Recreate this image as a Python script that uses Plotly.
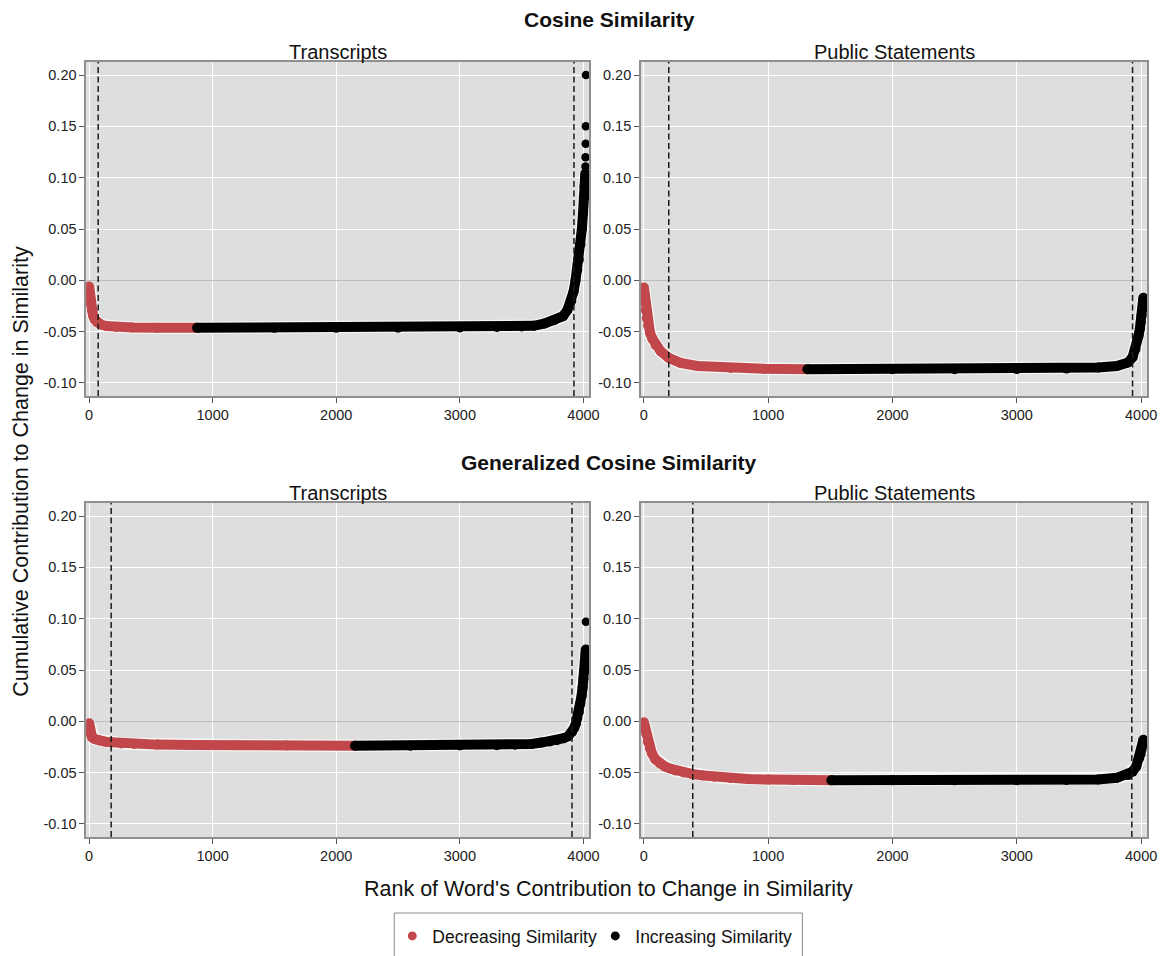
import plotly.graph_objects as go

# ---------------------------------------------------------------------------
# Cumulative contribution of each word (sorted by rank) to the change in
# similarity, for two similarity measures and two document sources.
# ---------------------------------------------------------------------------

# Cosine similarity / Transcripts
cos_tr_dec_rank = [1, 5, 10, 15, 22, 32, 45, 65, 95, 140, 220, 350, 550, 874]
cos_tr_dec_val = [-0.006, -0.013, -0.019, -0.024, -0.029, -0.034, -0.038,
                  -0.041, -0.043, -0.0445, -0.0455, -0.046, -0.0462, -0.0463]
cos_tr_inc_rank = [874, 1500, 2000, 2500, 3000, 3300, 3500, 3600, 3687, 3760,
                   3835, 3870, 3902, 3920, 3936, 3950, 3963, 3976, 3987, 3996,
                   4003, 4009, 4014, 4015]
cos_tr_inc_val = [-0.0463, -0.0463, -0.0463, -0.0462, -0.0459, -0.0455, -0.045,
                  -0.0443, -0.042, -0.039, -0.035, -0.029, -0.020, -0.011,
                  0.000, 0.010, 0.020, 0.035, 0.050, 0.065, 0.080, 0.092,
                  0.100, 0.104]
cos_tr_top_rank = [4016, 4017, 4018, 4019, 4020]
cos_tr_top_val = [0.111, 0.120, 0.133, 0.150, 0.200]
cos_tr_cutoffs = [74, 3923]

# Cosine similarity / Public Statements
cos_ps_dec_rank = [1, 5, 10, 16, 24, 35, 50, 70, 95, 135, 201, 295, 430, 700,
                   970, 1316]
cos_ps_dec_val = [-0.007, -0.013, -0.021, -0.029, -0.037, -0.044, -0.051,
                  -0.057, -0.063, -0.069, -0.0755, -0.0805, -0.0835, -0.0855,
                  -0.0862, -0.0866]
cos_ps_inc_rank = [1316, 2000, 2500, 3000, 3400, 3654, 3805, 3895, 3931, 3955,
                   3979, 3990, 3997, 4004, 4009, 4014, 4018]
cos_ps_inc_val = [-0.0866, -0.0866, -0.0866, -0.0865, -0.086, -0.085, -0.0835,
                  -0.080, -0.075, -0.067, -0.054, -0.047, -0.041, -0.034,
                  -0.028, -0.022, -0.017]
cos_ps_top_rank = []
cos_ps_top_val = []
cos_ps_cutoffs = [201, 3931]

# Generalized cosine similarity / Transcripts
gen_tr_dec_rank = [1, 5, 10, 16, 25, 40, 60, 90, 130, 179, 260, 366, 550, 828,
                   1200, 1600, 2152]
gen_tr_dec_val = [-0.002, -0.006, -0.010, -0.013, -0.0155, -0.017, -0.018,
                  -0.019, -0.0198, -0.0205, -0.0215, -0.022, -0.0227, -0.023,
                  -0.0233, -0.0236, -0.0238]
gen_tr_inc_rank = [2152, 2600, 3000, 3300, 3446, 3580, 3661, 3730, 3785, 3840,
                   3877, 3908, 3925, 3938, 3950, 3963, 3975, 3985, 3993, 4000,
                   4006, 4012, 4016, 4018, 4019]
gen_tr_inc_val = [-0.0238, -0.0238, -0.0236, -0.0232, -0.0228, -0.022, -0.0207,
                  -0.0196, -0.0184, -0.0165, -0.0146, -0.0104, -0.0065,
                  -0.0023, 0.003, 0.009, 0.017, 0.025, 0.033, 0.041, 0.049,
                  0.058, 0.064, 0.067, 0.070]
gen_tr_top_rank = [4020]
gen_tr_top_val = [0.097]
gen_tr_cutoffs = [179, 3907]

# Generalized cosine similarity / Public Statements
gen_ps_dec_rank = [1, 6, 12, 20, 33, 48, 65, 93, 130, 168, 210, 258, 320, 394,
                   480, 568, 700, 835, 1000, 1200, 1509]
gen_ps_dec_val = [-0.001, -0.004, -0.008, -0.012, -0.020, -0.026, -0.031,
                  -0.037, -0.041, -0.044, -0.046, -0.048, -0.0498, -0.0515,
                  -0.0528, -0.054, -0.0552, -0.0562, -0.0568, -0.0572, -0.0575]
gen_ps_inc_rank = [1509, 2000, 2500, 3000, 3400, 3654, 3805, 3895, 3931, 3961,
                   3985, 3996, 4003, 4010, 4015, 4018]
gen_ps_inc_val = [-0.0575, -0.0575, -0.0575, -0.0574, -0.0571, -0.0566, -0.055,
                  -0.0524, -0.049, -0.044, -0.036, -0.032, -0.028, -0.024,
                  -0.020, -0.018]
gen_ps_top_rank = []
gen_ps_top_val = []
gen_ps_cutoffs = [394, 3925]

# Axis ticks
x_ticks = [0, 1000, 2000, 3000, 4000]
x_tick_labels = ["0", "1000", "2000", "3000", "4000"]
y_ticks = [-0.10, -0.05, 0.00, 0.05, 0.10, 0.15, 0.20]
y_tick_labels = ["-0.10", "-0.05", "0.00", "0.05", "0.10", "0.15", "0.20"]

measure_titles = ["Cosine Similarity", "Generalized Cosine Similarity"]
source_titles = ["Transcripts", "Public Statements"]
legend_names = ["Decreasing Similarity", "Increasing Similarity"]

# ---------------------------------------------------------------------------
W, H = 1167, 956
RED = "#C1474A"
BLACK = "#000000"
FONT = "Liberation Sans, Arial, Helvetica, sans-serif"


def fx(p):
    return p / W


def fy(p):
    return 1 - p / H


panels = [
    ("x", "y", cos_tr_dec_rank, cos_tr_dec_val, cos_tr_inc_rank, cos_tr_inc_val,
     cos_tr_top_rank, cos_tr_top_val, cos_tr_cutoffs),
    ("x2", "y2", cos_ps_dec_rank, cos_ps_dec_val, cos_ps_inc_rank, cos_ps_inc_val,
     cos_ps_top_rank, cos_ps_top_val, cos_ps_cutoffs),
    ("x3", "y3", gen_tr_dec_rank, gen_tr_dec_val, gen_tr_inc_rank, gen_tr_inc_val,
     gen_tr_top_rank, gen_tr_top_val, gen_tr_cutoffs),
    ("x4", "y4", gen_ps_dec_rank, gen_ps_dec_val, gen_ps_inc_rank, gen_ps_inc_val,
     gen_ps_top_rank, gen_ps_top_val, gen_ps_cutoffs),
]

fig = go.Figure()
shapes = []
LW = 10

for xa, ya, rd, vd, ri, vi, rt, vt, cuts in panels:
    # soft white rim underneath the point band
    for r, v in ((rd, vd), (ri, vi)):
        fig.add_trace(go.Scatter(
            x=r, y=v, xaxis=xa, yaxis=ya, mode="lines",
            line=dict(color="rgba(255,255,255,0.75)", width=LW + 2.5),
            hoverinfo="skip", showlegend=False))
    fig.add_trace(go.Scatter(
        x=rd, y=vd, xaxis=xa, yaxis=ya, mode="lines+markers",
        line=dict(color=RED, width=LW), marker=dict(color=RED, size=LW),
        name=legend_names[0], showlegend=False))
    fig.add_trace(go.Scatter(
        x=ri, y=vi, xaxis=xa, yaxis=ya, mode="lines+markers",
        line=dict(color=BLACK, width=LW), marker=dict(color=BLACK, size=LW),
        name=legend_names[1], showlegend=False))
    if rt:
        fig.add_trace(go.Scatter(
            x=rt, y=vt, xaxis=xa, yaxis=ya, mode="markers",
            marker=dict(color=BLACK, size=8.5),
            name=legend_names[1], showlegend=False))
    for c in cuts:
        shapes.append(dict(
            type="line", xref=xa, yref=ya + " domain", x0=c, x1=c, y0=0, y1=1,
            line=dict(color="#1a1a1a", width=1.5, dash="6px,3.5px"),
            layer="above"))

# legend entries
for name, col in zip(legend_names, [RED, BLACK]):
    fig.add_trace(go.Scatter(
        x=[None], y=[None], mode="markers", name=name,
        marker=dict(color=col, size=9), showlegend=True))

# legend frame
shapes.append(dict(
    type="rect", xref="paper", yref="paper",
    x0=fx(397), x1=fx(809), y0=-0.05, y1=fy(913),
    line=dict(color="#8a8a8a", width=1), fillcolor="rgba(0,0,0,0)"))

x_dom = [[fx(86), fx(594)], [fx(646), fx(1157)]]
y_dom = [[fy(396), fy(62)], [fy(837), fy(503)]]

axis_common = dict(
    showgrid=True, gridcolor="white", gridwidth=1.2,
    showline=True, linecolor="#8F8F8F", linewidth=1.5, mirror=True,
    ticks="outside", ticklen=5, tickwidth=1, tickcolor="#555555",
    tickfont=dict(size=14.5, color="#222222", family=FONT),
)

layout = dict(
    width=W, height=H, autosize=False,
    margin=dict(l=0, r=0, t=0, b=0),
    paper_bgcolor="white", plot_bgcolor="#DEDEDE",
    font=dict(family=FONT, color="#111111"),
    shapes=shapes,
    showlegend=True,
    legend=dict(
        orientation="h", x=fx(395), xanchor="left", y=fy(936), yanchor="middle",
        entrywidth=158, entrywidthmode="pixels",
        font=dict(size=17.5, family=FONT, color="#111111"),
        bgcolor="rgba(0,0,0,0)", borderwidth=0),
)

for i in range(4):
    row, col = divmod(i, 2)
    sfx = "" if i == 0 else str(i + 1)
    layout["xaxis" + sfx] = dict(
        axis_common, domain=x_dom[col], range=[-23, 4048], anchor="y" + sfx,
        tickvals=x_ticks, ticktext=x_tick_labels, zeroline=False)
    layout["yaxis" + sfx] = dict(
        axis_common, domain=y_dom[row], range=[-0.1127, 0.2127],
        anchor="x" + sfx, tickvals=y_ticks, ticktext=y_tick_labels,
        zeroline=True, zerolinecolor="#BDBDBD", zerolinewidth=1.2)

annotations = []
for row, (ytitle, ysub) in enumerate([(19, 52), (463, 493)]):
    annotations.append(dict(
        text="<b>" + measure_titles[row] + "</b>", x=fx(614), y=fy(ytitle),
        xref="paper", yref="paper", showarrow=False, xanchor="center",
        yanchor="middle", font=dict(size=21, family=FONT, color="#111111")))
    for col in range(2):
        annotations.append(dict(
            text=source_titles[col], x=sum(x_dom[col]) / 2, y=fy(ysub),
            xref="paper", yref="paper", showarrow=False, xanchor="center",
            yanchor="middle", font=dict(size=20, family=FONT, color="#111111")))

annotations.append(dict(
    text="Rank of Word's Contribution to Change in Similarity",
    x=fx(613), y=fy(889), xref="paper", yref="paper", showarrow=False,
    xanchor="center", yanchor="middle",
    font=dict(size=21.5, family=FONT, color="#111111")))
annotations.append(dict(
    text="Cumulative Contribution to Change in Similarity",
    x=fx(20), y=fy(471), xref="paper", yref="paper", showarrow=False,
    xanchor="center", yanchor="middle", textangle=-90,
    font=dict(size=21.5, family=FONT, color="#111111")))
layout["annotations"] = annotations

fig.update_layout(**layout)
fig.write_html("out.html")
